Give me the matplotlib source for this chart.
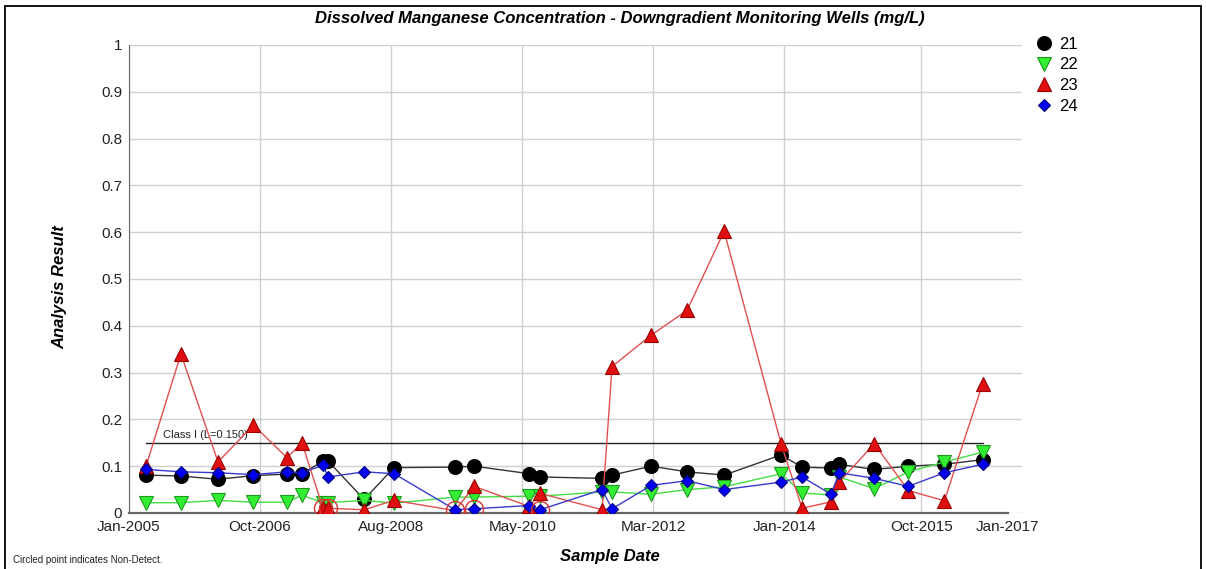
import pandas as pd
import matplotlib
matplotlib.use('Agg')
import matplotlib.pyplot as plt
import matplotlib.dates as mdates
from matplotlib.patches import Rectangle

plt.rcParams['font.family'] = ['Liberation Sans', 'DejaVu Sans']

# Sample dates shared by all four wells
sample_dates = pd.to_datetime([
    '2005-03-27', '2005-09-17', '2006-03-21', '2006-09-14', '2007-02-28',
    '2007-05-14', '2007-08-27', '2007-09-21', '2008-03-19', '2008-08-15',
    '2009-06-16', '2009-09-19', '2010-06-20', '2010-08-14', '2011-06-19',
    '2011-08-08', '2012-02-19', '2012-08-16', '2013-02-17', '2013-11-28',
    '2014-03-13', '2014-08-05', '2014-09-14', '2015-03-08', '2015-08-25',
    '2016-02-21', '2016-08-29'])

well_21 = [0.081, 0.079, 0.072, 0.080, 0.083, 0.084, 0.111, 0.111, 0.029, 0.097,
           0.098, 0.100, 0.084, 0.077, 0.074, 0.081, 0.100, 0.088, 0.081, 0.124,
           0.098, 0.096, 0.104, 0.093, 0.100, 0.104, 0.114]
well_22 = [0.022, 0.022, 0.027, 0.023, 0.023, 0.038, 0.022, 0.022, 0.027, 0.021,
           0.034, 0.034, 0.036, 0.036, 0.045, 0.045, 0.040, 0.050, 0.056, 0.084,
           0.043, 0.038, 0.077, 0.052, 0.088, 0.109, 0.130]
well_23 = [0.100, 0.340, 0.109, 0.188, 0.118, 0.150, 0.010, 0.010, 0.007, 0.027,
           0.005, 0.057, 0.014, 0.042, 0.007, 0.313, 0.380, 0.433, 0.602, 0.148,
           0.010, 0.024, 0.066, 0.148, 0.048, 0.026, 0.276]
well_24 = [0.093, 0.088, 0.086, 0.082, 0.088, 0.086, 0.102, 0.077, 0.088, 0.084,
           0.007, 0.009, 0.016, 0.007, 0.050, 0.009, 0.059, 0.069, 0.050, 0.066,
           0.077, 0.040, 0.086, 0.074, 0.057, 0.086, 0.104]

# Non-detect samples (index into sample_dates)
nd_23 = [6, 7]
nd_24 = [10, 11, 13]

class_limit = 0.150

tick_dates = pd.to_datetime(['2005-01-01', '2006-10-17', '2008-08-01', '2010-05-17',
                             '2012-03-01', '2013-12-14', '2015-10-29', '2017-01-01'])
tick_labels = ['Jan-2005', 'Oct-2006', 'Aug-2008', 'May-2010', 'Mar-2012',
               'Jan-2014', 'Oct-2015', 'Jan-2017']

fig = plt.figure(figsize=(12.06, 5.69), dpi=100)
ax = fig.add_axes([129 / 1206, 1 - 513 / 569, (1022 - 129) / 1206, (513 - 45) / 569])

series = [
    ('21', well_21, 'o', 10, '#000000', '#000000', '#333333'),
    ('22', well_22, 'v', 9.5, '#33ee33', '#1c9a1c', '#44dd44'),
    ('23', well_23, '^', 9.5, '#e01010', '#9a0000', '#e05050'),
    ('24', well_24, 'D', 6.5, '#0000ee', '#000080', '#3a3ad0'),
]
for i, (name, vals, mk, ms, fc, ec, lc) in enumerate(series):
    ax.plot(sample_dates, vals, color=lc, lw=1, zorder=3 + i)
    ax.plot(sample_dates, vals, ls='none', marker=mk, ms=ms, mfc=fc, mec=ec,
            mew=0.8, label=name, zorder=3 + i)

# circled non-detects
for idx_list, vals in [(nd_23, well_23), (nd_24, well_24)]:
    ax.plot(sample_dates[idx_list], [vals[i] for i in idx_list], ls='none',
            marker='o', ms=13, mfc='none', mec='#dd3333', mew=1.0, zorder=10)

# Class I limit line
ax.plot([sample_dates[0], sample_dates[-1]], [class_limit, class_limit],
        color='#222222', lw=1, zorder=2)
ax.text(pd.Timestamp('2005-06-20'), class_limit + 0.005, 'Class I (L=0.150)',
        fontsize=8, color='#222222', va='bottom', ha='left')

ax.set_xlim(pd.Timestamp('2005-01-01'), pd.Timestamp('2017-03-14'))
ax.set_ylim(0, 1)
ax.set_yticks([i / 10 for i in range(11)])
ax.set_yticklabels(['0', '0.1', '0.2', '0.3', '0.4', '0.5', '0.6', '0.7', '0.8', '0.9', '1'])
ax.set_xticks(tick_dates)
ax.set_xticklabels(tick_labels)
ax.tick_params(length=0, labelsize=11, colors='#222222')
ax.tick_params(axis='x', pad=5)
ax.tick_params(axis='y', pad=5)

ax.grid(True, color='#d0d0d0', lw=1, zorder=0)
ax.set_axisbelow(True)
ax.get_xgridlines()[-1].set_visible(False)

for s in ['top', 'right']:
    ax.spines[s].set_visible(False)
ax.spines['left'].set_color('#666666')
ax.spines['bottom'].set_color('#666666')
ax.spines['bottom'].set_linewidth(1.6)
ax.spines['bottom'].set_bounds(mdates.date2num(pd.Timestamp('2005-01-01')),
                               mdates.date2num(pd.Timestamp('2017-01-01')))

ax.legend(loc='upper left', bbox_to_anchor=(1.010, 1.032), frameon=False,
          fontsize=12, handlelength=0.8, handletextpad=0.5, labelspacing=0.34,
          borderaxespad=0)

fig.text(620 / 1206, 1 - 19 / 569, 'Dissolved Manganese Concentration - Downgradient Monitoring Wells (mg/L)',
         ha='center', va='center', fontsize=12, fontweight='bold', fontstyle='italic')
fig.text(60 / 1206, 1 - 287 / 569, 'Analysis Result', rotation=90, ha='center', va='center',
         fontsize=12, fontweight='bold', fontstyle='italic')
fig.text(610 / 1206, 1 - 556 / 569, 'Sample Date', ha='center', va='center',
         fontsize=12, fontweight='bold', fontstyle='italic')
fig.text(13 / 1206, 1 - 560 / 569, 'Circled point indicates Non-Detect.', ha='left',
         va='center', fontsize=7, color='#222222')

fig.patches.append(Rectangle((5 / 1206, -0.01), 1196 / 1206, 1 - 6 / 569 + 0.01,
                             transform=fig.transFigure, fill=False, lw=1.3,
                             edgecolor='black'))

fig.savefig('out.png', dpi=100)
